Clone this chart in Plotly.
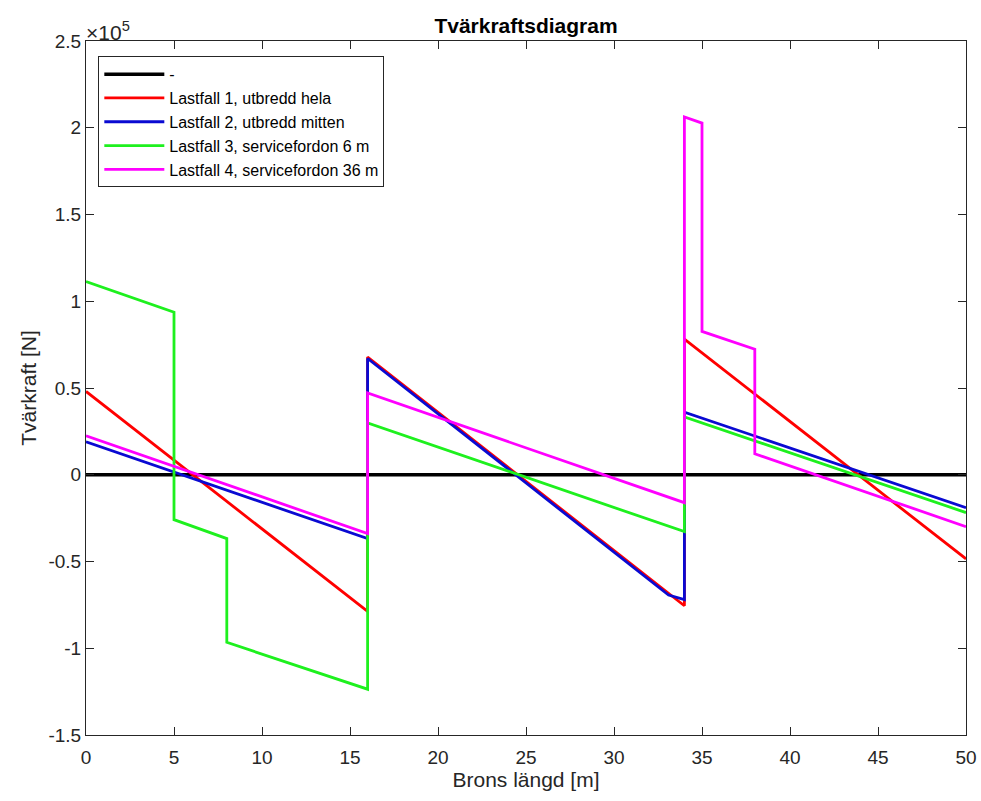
import plotly.graph_objects as go

# Data (x in m, shear force in units of 1e5 N)
x_zero = [0, 50]
v_zero = [0, 0]

x_lf1 = [0, 16, 16, 34, 34, 50]
v_lf1 = [0.48, -0.787, 0.678, -0.755, 0.782, -0.485]

x_lf2 = [0, 16, 16, 33.1, 34, 34, 50]
v_lf2 = [0.19, -0.368, 0.67, -0.693, -0.72, 0.361, -0.19]

x_lf3 = [0, 5, 5, 8, 8, 16, 16, 34, 34, 50]
v_lf3 = [1.114, 0.937, -0.259, -0.368, -0.966, -1.236, 0.299, -0.328, 0.333, -0.218]

x_lf4 = [0, 16, 16, 34, 34, 35, 35, 38, 38, 50]
v_lf4 = [0.225, -0.339, 0.471, -0.161, 2.062, 2.027, 0.826, 0.724, 0.121, -0.299]

scale = 1e5
ytick_vals = [-1.5, -1, -0.5, 0, 0.5, 1, 1.5, 2, 2.5]
ytick_text = ["-1.5", "-1", "-0.5", "0", "0.5", "1", "1.5", "2", "2.5"]
xtick_vals = [0, 5, 10, 15, 20, 25, 30, 35, 40, 45, 50]

names = ["-", "Lastfall 1, utbredd hela", "Lastfall 2, utbredd mitten",
         "Lastfall 3, servicefordon 6 m", "Lastfall 4, servicefordon 36 m"]
colors = ["#000000", "#FF0000", "#0A0AD2", "#1EF01E", "#FF00FF"]
widths = [3.5, 2.8, 2.8, 2.8, 2.8]
series = [(x_zero, v_zero), (x_lf1, v_lf1), (x_lf2, v_lf2), (x_lf3, v_lf3), (x_lf4, v_lf4)]

font = "Liberation Sans, Arial, Helvetica, sans-serif"
txt = "#262626"

fig = go.Figure()
for (xs, vs), name, c, w in zip(series, names, colors, widths):
    fig.add_trace(go.Scatter(x=xs, y=[v * scale for v in vs], mode="lines", name=name,
                             line=dict(color=c, width=w)))

axis_common = dict(showgrid=False, zeroline=False, showline=True, linecolor=txt,
                   linewidth=1, mirror="allticks", ticks="inside", ticklen=8,
                   tickcolor=txt, automargin=False,
                   tickfont=dict(size=19, color=txt, family=font))

fig.update_xaxes(range=[0, 50], tickvals=xtick_vals, ticklabelstandoff=5,
                 title=dict(text="Brons längd [m]", font=dict(size=21, color=txt, family=font),
                            standoff=0),
                 **axis_common)
fig.update_yaxes(range=[-1.5 * scale, 2.5 * scale], tickvals=[v * scale for v in ytick_vals],
                 ticktext=ytick_text,
                 title=dict(text="Tvärkraft [N]", font=dict(size=21, color=txt, family=font),
                            standoff=6),
                 **axis_common)

fig.add_annotation(text="×10<sup>5</sup>", xref="paper", yref="paper", x=0, y=1,
                   xanchor="left", yanchor="bottom", showarrow=False,
                   font=dict(size=21, color=txt, family=font), yshift=-5, xshift=-2)

fig.update_layout(
    width=981, height=801,
    margin=dict(l=86, r=15, t=41, b=66),
    paper_bgcolor="white", plot_bgcolor="white",
    title=dict(text="<b>Tvärkraftsdiagram</b>", x=0.5, xref="paper", xanchor="center",
               y=1, yref="paper", yanchor="bottom", pad=dict(b=8),
               font=dict(size=21, color="#000000", family=font)),
    legend=dict(x=0.014, y=0.978, xanchor="left", yanchor="top", bgcolor="white",
                bordercolor=txt, borderwidth=1, itemwidth=60,
                font=dict(size=16, color="#000000", family=font), tracegroupgap=0),
    showlegend=True,
)

fig.write_html("out.html")
